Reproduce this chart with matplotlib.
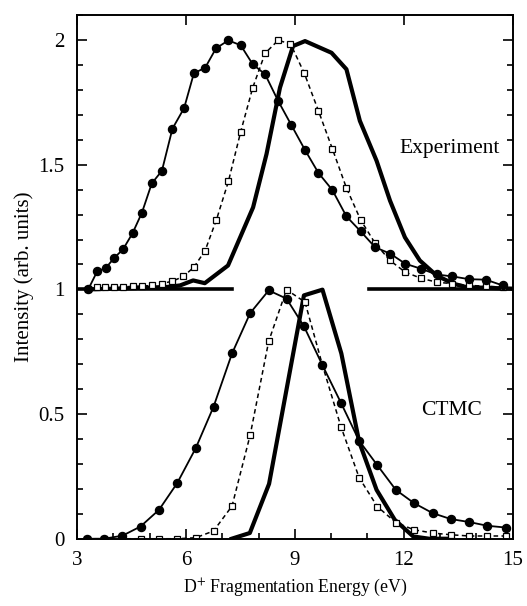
#!/usr/bin/env python3
import numpy as np
import matplotlib
matplotlib.use('Agg')
import matplotlib.pyplot as plt
from matplotlib.ticker import MultipleLocator

plt.rcParams['font.family'] = ['Liberation Serif', 'DejaVu Serif']
plt.rcParams['mathtext.fontset'] = 'stix'

# Experiment (plotted with +1 offset)
exp_c_x = [3.31, 3.56, 3.79, 4.03, 4.27, 4.53, 4.79, 5.06, 5.34, 5.63, 5.95, 6.22, 6.53, 6.83,
           7.17, 7.51, 7.84, 8.18, 8.54, 8.90, 9.28, 9.65, 10.03, 10.42, 10.81, 11.21, 11.63,
           12.04, 12.47, 12.90, 13.34, 13.80, 14.26, 14.72]
exp_c_y = [1.00, 1.073, 1.085, 1.127, 1.161, 1.225, 1.308, 1.425, 1.476, 1.645, 1.727, 1.867,
           1.889, 1.967, 1.999, 1.979, 1.903, 1.863, 1.756, 1.66, 1.559, 1.467, 1.399, 1.293,
           1.233, 1.169, 1.143, 1.103, 1.083, 1.06, 1.052, 1.041, 1.039, 1.016]

exp_s_x = [3.31, 3.54, 3.77, 4.03, 4.27, 4.53, 4.78, 5.06, 5.33, 5.63, 5.93, 6.22, 6.53, 6.84,
           7.17, 7.51, 7.84, 8.18, 8.54, 8.88, 9.26, 9.65, 10.03, 10.42, 10.81, 11.21, 11.62,
           12.04, 12.47, 12.90, 13.34, 13.80, 14.26, 14.72]
exp_s_y = [1.0, 1.009, 1.009, 1.009, 1.009, 1.013, 1.013, 1.016, 1.023, 1.033, 1.052, 1.089,
           1.156, 1.279, 1.433, 1.633, 1.809, 1.947, 1.999, 1.985, 1.867, 1.716, 1.565, 1.407,
           1.279, 1.185, 1.116, 1.069, 1.045, 1.029, 1.023, 1.016, 1.013, 1.009]

exp_t_x = [3.31, 4.5, 5.5, 5.84, 6.20, 6.52, 7.16, 7.85, 8.22, 8.59, 8.95, 9.28, 10.01, 10.42,
           10.79, 11.25, 11.62, 12.03, 12.44, 12.90, 13.36, 13.73, 15.0]
exp_t_y = [1.0, 1.005, 1.01, 1.016, 1.036, 1.025, 1.096, 1.329, 1.543, 1.809, 1.976, 1.996,
           1.949, 1.883, 1.676, 1.516, 1.356, 1.209, 1.116, 1.056, 1.023, 1.009, 1.003]

exp_base_x = [[3.0, 7.26], [11.04, 15.0]]
exp_base_y = 1.0

# CTMC
ctmc_c_x = [3.27, 3.74, 4.25, 4.75, 5.26, 5.76, 6.27, 6.76, 7.27, 7.77, 8.28, 8.77, 9.25, 9.76,
            10.27, 10.77, 11.27, 11.78, 12.28, 12.79, 13.29, 13.80, 14.30, 14.80]
ctmc_c_y = [0.0, 0.0, 0.012, 0.049, 0.116, 0.223, 0.363, 0.529, 0.743, 0.905, 0.996, 0.963,
            0.852, 0.696, 0.545, 0.393, 0.295, 0.196, 0.143, 0.103, 0.079, 0.067, 0.052, 0.045]

ctmc_s_x = [3.27, 3.74, 4.25, 4.75, 5.26, 5.76, 6.27, 6.76, 7.27, 7.77, 8.28, 8.77, 9.28, 9.76,
            10.27, 10.77, 11.27, 11.78, 12.28, 12.79, 13.29, 13.80, 14.30, 14.80]
ctmc_s_y = [0.0, 0.0, 0.0, 0.0, 0.0, 0.0, 0.004, 0.031, 0.131, 0.416, 0.792, 0.999, 0.949,
            0.696, 0.449, 0.245, 0.129, 0.065, 0.036, 0.023, 0.016, 0.011, 0.011, 0.011]

ctmc_t_x = [7.26, 7.76, 8.29, 9.25, 9.76, 10.28, 10.77, 11.25, 11.75, 12.26, 12.7, 13.2]
ctmc_t_y = [0.0, 0.023, 0.22, 0.976, 0.999, 0.743, 0.389, 0.196, 0.076, 0.009, 0.0, 0.0]

fig = plt.figure(figsize=(5.27, 6.06), dpi=100)
ax = fig.add_axes([0.146, 0.111, 0.827, 0.864])

for xs in exp_base_x:
    ax.plot(xs, [exp_base_y, exp_base_y], 'k-', linewidth=2.6)

ax.plot(exp_t_x, exp_t_y, 'k-', linewidth=3.0)
ax.plot(exp_s_x, exp_s_y, 'k--', marker='s', markerfacecolor='white', markersize=5,
        markeredgewidth=0.9, linewidth=1.1, dashes=(3, 2.2))
ax.plot(exp_c_x, exp_c_y, 'k-', marker='o', markersize=5.8, linewidth=1.3)

ax.plot(ctmc_t_x, ctmc_t_y, 'k-', linewidth=3.0)
ax.plot(ctmc_s_x, ctmc_s_y, 'k--', marker='s', markerfacecolor='white', markersize=5,
        markeredgewidth=0.9, linewidth=1.1, dashes=(3, 2.2))
ax.plot(ctmc_c_x, ctmc_c_y, 'k-', marker='o', markersize=5.8, linewidth=1.3)

ax.text(13.27, 1.564, 'Experiment', fontsize=15.5, ha='center', va='center')
ax.text(13.31, 0.516, 'CTMC', fontsize=15.5, ha='center', va='center')

ax.set_xlim(3, 15)
ax.set_ylim(0, 2.1)
ax.set_xticks([3, 6, 9, 12, 15])
ax.set_yticks([0, 0.5, 1, 1.5, 2])
ax.set_yticklabels(['0', '0.5', '1', '1.5', '2'])
ax.xaxis.set_minor_locator(MultipleLocator(1))
ax.yaxis.set_minor_locator(MultipleLocator(0.1))
ax.tick_params(which='both', direction='in', top=True, right=True, width=1.2)
ax.tick_params(which='major', length=7, labelsize=15, pad=9)
ax.tick_params(which='minor', length=4)
ax.tick_params(which='minor', axis='x', top=False)
for s in ax.spines.values():
    s.set_linewidth(1.4)

ax.set_xlabel('D$^{+}$ Fragmentation Energy (eV)', fontsize=12.8, labelpad=5)
ax.set_ylabel('Intensity (arb. units)', fontsize=15, labelpad=3)

fig.savefig('out.png', dpi=100)
